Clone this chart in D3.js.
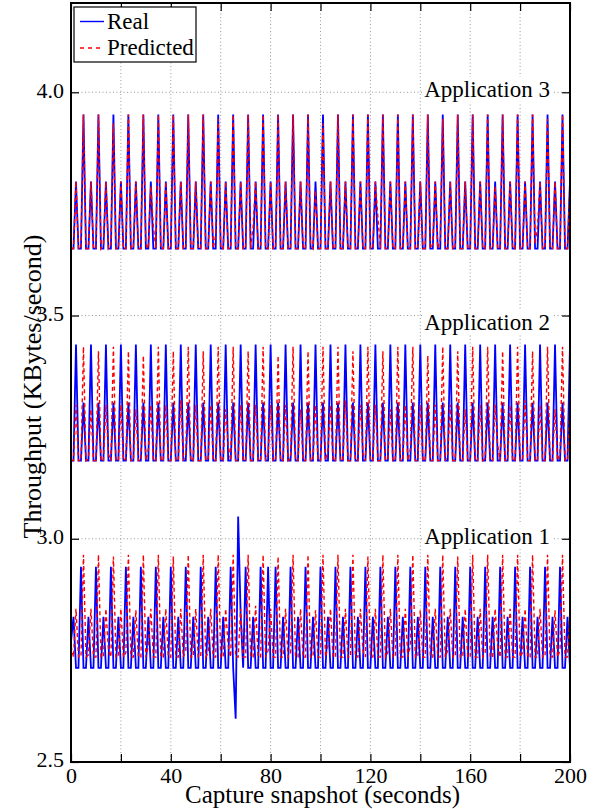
<!DOCTYPE html>
<html>
<head>
<meta charset="utf-8">
<script src="https://cdn.jsdelivr.net/npm/d3@7"></script>
<style>
  html, body { margin: 0; padding: 0; background: #fff; }
  svg { display: block; }
  text { font-family: "Liberation Serif", "Times New Roman", serif; fill: #000; }
</style>
</head>
<body>
<svg id="chart" width="596" height="809"></svg>
<script>
// ---------------- DATA (one sample per second, 0..200 s) ----------------
const app3Real = [
3.65,3.65,3.80,3.65,3.65,3.95,
3.65,3.65,3.80,3.65,3.65,3.95,
3.65,3.65,3.80,3.65,3.65,3.95,
3.65,3.65,3.80,3.65,3.65,3.95,
3.65,3.65,3.80,3.65,3.65,3.95,
3.65,3.65,3.80,3.65,3.65,3.95,
3.65,3.65,3.80,3.65,3.65,3.95,
3.65,3.65,3.80,3.65,3.65,3.95,
3.65,3.65,3.80,3.65,3.65,3.95,
3.65,3.65,3.80,3.65,3.65,3.95,
3.65,3.65,3.80,3.65,3.65,3.95,
3.65,3.65,3.80,3.65,3.65,3.95,
3.65,3.65,3.80,3.65,3.65,3.95,
3.65,3.65,3.80,3.65,3.65,3.95,
3.65,3.65,3.80,3.65,3.65,3.95,
3.65,3.65,3.80,3.65,3.65,3.95,
3.65,3.65,3.80,3.65,3.65,3.95,
3.65,3.65,3.80,3.65,3.65,3.95,
3.65,3.65,3.80,3.65,3.65,3.95,
3.65,3.65,3.80,3.65,3.65,3.95,
3.65,3.65,3.80,3.65,3.65,3.95,
3.65,3.65,3.80,3.65,3.65,3.95,
3.65,3.65,3.80,3.65,3.65,3.95,
3.65,3.65,3.80,3.65,3.65,3.95,
3.65,3.65,3.80,3.65,3.65,3.95,
3.65,3.65,3.80,3.65,3.65,3.95,
3.65,3.65,3.80,3.65,3.65,3.95,
3.65,3.65,3.80,3.65,3.65,3.95,
3.65,3.65,3.80,3.65,3.65,3.95,
3.65,3.65,3.80,3.65,3.65,3.95,
3.65,3.65,3.80,3.65,3.65,3.95,
3.65,3.65,3.80,3.65,3.65,3.95,
3.65,3.65,3.80,3.65,3.65,3.95,
3.65,3.65,3.80];

const app3Pred = [
3.65,3.65,3.80,3.65,3.65,3.95,
3.65,3.65,3.80,3.65,3.65,3.95,
3.65,3.66,3.80,3.65,3.66,3.93,
3.65,3.65,3.80,3.65,3.65,3.95,
3.65,3.65,3.80,3.65,3.65,3.95,
3.66,3.65,3.79,3.70,3.65,3.95,
3.65,3.65,3.80,3.65,3.65,3.95,
3.65,3.65,3.80,3.65,3.65,3.95,
3.65,3.65,3.80,3.65,3.65,3.95,
3.65,3.65,3.80,3.65,3.68,3.94,
3.65,3.65,3.80,3.65,3.65,3.95,
3.65,3.65,3.80,3.65,3.65,3.95,
3.65,3.70,3.80,3.65,3.65,3.95,
3.65,3.65,3.80,3.65,3.65,3.95,
3.65,3.65,3.80,3.65,3.65,3.95,
3.65,3.65,3.80,3.65,3.65,3.95,
3.66,3.65,3.78,3.65,3.65,3.93,
3.65,3.65,3.80,3.65,3.65,3.95,
3.65,3.65,3.80,3.65,3.65,3.95,
3.65,3.65,3.80,3.65,3.65,3.95,
3.65,3.65,3.80,3.72,3.65,3.95,
3.65,3.65,3.80,3.65,3.65,3.95,
3.65,3.65,3.80,3.65,3.65,3.95,
3.65,3.65,3.80,3.65,3.65,3.95,
3.65,3.66,3.80,3.65,3.67,3.94,
3.65,3.65,3.80,3.65,3.65,3.95,
3.65,3.65,3.80,3.65,3.65,3.95,
3.65,3.65,3.80,3.65,3.65,3.95,
3.65,3.65,3.79,3.65,3.65,3.95,
3.65,3.65,3.80,3.65,3.65,3.95,
3.65,3.65,3.80,3.65,3.65,3.95,
3.66,3.70,3.80,3.65,3.65,3.94,
3.65,3.65,3.80,3.65,3.65,3.95,
3.65,3.65,3.80];

const app2Real = [
3.175,3.175,3.435,3.175,3.175,3.305,
3.175,3.175,3.435,3.175,3.175,3.305,
3.175,3.175,3.435,3.175,3.175,3.305,
3.175,3.175,3.435,3.175,3.175,3.305,
3.175,3.175,3.435,3.175,3.175,3.305,
3.175,3.175,3.435,3.175,3.175,3.305,
3.175,3.175,3.435,3.175,3.175,3.305,
3.175,3.175,3.435,3.175,3.175,3.305,
3.175,3.175,3.435,3.175,3.175,3.305,
3.175,3.175,3.435,3.175,3.175,3.305,
3.175,3.175,3.435,3.175,3.175,3.305,
3.175,3.175,3.435,3.175,3.175,3.305,
3.175,3.175,3.435,3.175,3.175,3.305,
3.175,3.175,3.435,3.175,3.175,3.305,
3.175,3.175,3.435,3.175,3.175,3.305,
3.175,3.175,3.435,3.175,3.175,3.305,
3.175,3.175,3.435,3.175,3.175,3.305,
3.175,3.175,3.435,3.175,3.175,3.305,
3.175,3.175,3.435,3.175,3.175,3.305,
3.175,3.175,3.435,3.175,3.175,3.305,
3.175,3.175,3.435,3.175,3.175,3.305,
3.175,3.175,3.435,3.175,3.175,3.305,
3.175,3.175,3.435,3.175,3.175,3.305,
3.175,3.175,3.435,3.175,3.175,3.305,
3.175,3.175,3.435,3.175,3.175,3.305,
3.175,3.175,3.435,3.175,3.175,3.305,
3.175,3.175,3.435,3.175,3.175,3.305,
3.175,3.175,3.435,3.175,3.175,3.305,
3.175,3.175,3.435,3.175,3.175,3.305,
3.175,3.175,3.435,3.175,3.175,3.305,
3.175,3.175,3.435,3.175,3.175,3.305,
3.175,3.175,3.435,3.175,3.175,3.305,
3.175,3.175,3.435,3.175,3.175,3.305,
3.175,3.175,3.435];

const app2Pred = [
3.175,3.175,3.300,3.175,3.175,3.430,
3.175,3.180,3.290,3.175,3.175,3.420,
3.175,3.175,3.300,3.190,3.175,3.430,
3.175,3.175,3.300,3.175,3.180,3.420,
3.175,3.175,3.290,3.175,3.175,3.410,
3.175,3.200,3.300,3.175,3.175,3.430,
3.175,3.175,3.300,3.175,3.175,3.420,
3.175,3.175,3.310,3.175,3.190,3.430,
3.175,3.175,3.300,3.175,3.175,3.420,
3.175,3.180,3.300,3.175,3.175,3.430,
3.175,3.175,3.290,3.210,3.175,3.430,
3.175,3.175,3.300,3.175,3.175,3.420,
3.175,3.175,3.300,3.175,3.175,3.430,
3.175,3.190,3.300,3.175,3.175,3.410,
3.175,3.175,3.300,3.175,3.180,3.430,
3.175,3.175,3.290,3.175,3.175,3.420,
3.175,3.175,3.300,3.175,3.175,3.430,
3.175,3.200,3.300,3.175,3.175,3.430,
3.175,3.175,3.310,3.175,3.175,3.420,
3.175,3.175,3.300,3.190,3.175,3.430,
3.175,3.175,3.300,3.175,3.175,3.420,
3.175,3.180,3.290,3.175,3.175,3.430,
3.175,3.175,3.300,3.175,3.200,3.430,
3.175,3.175,3.300,3.175,3.175,3.410,
3.175,3.175,3.300,3.175,3.175,3.430,
3.175,3.190,3.300,3.175,3.175,3.420,
3.175,3.175,3.290,3.175,3.175,3.430,
3.175,3.175,3.300,3.175,3.180,3.430,
3.175,3.175,3.300,3.210,3.175,3.420,
3.175,3.175,3.300,3.175,3.175,3.430,
3.175,3.180,3.310,3.175,3.175,3.420,
3.175,3.175,3.300,3.175,3.175,3.430,
3.175,3.175,3.290,3.175,3.190,3.430,
3.175,3.175,3.300];

const app1Real = [
2.770,2.825,2.711,2.711,2.937,2.711,
2.711,2.825,2.711,2.711,2.937,2.711,
2.711,2.825,2.711,2.711,2.937,2.711,
2.711,2.825,2.711,2.711,2.937,2.711,
2.711,2.825,2.711,2.711,2.937,2.711,
2.711,2.825,2.711,2.711,2.937,2.711,
2.711,2.825,2.711,2.711,2.937,2.711,
2.711,2.825,2.711,2.711,2.937,2.711,
2.711,2.825,2.711,2.711,2.937,2.711,
2.711,2.825,2.711,2.711,2.937,2.711,
2.711,2.825,2.711,2.711,2.937,2.711,
2.597,3.050,2.830,2.711,2.937,2.711,
2.711,2.825,2.711,2.711,2.937,2.711,
2.711,2.937,2.711,2.711,2.937,2.711,
2.711,2.825,2.711,2.711,2.937,2.711,
2.711,2.825,2.711,2.711,2.937,2.711,
2.711,2.825,2.711,2.711,2.937,2.711,
2.711,2.825,2.711,2.711,2.937,2.711,
2.711,2.825,2.711,2.711,2.937,2.711,
2.711,2.825,2.711,2.711,2.937,2.711,
2.711,2.825,2.711,2.711,2.937,2.711,
2.711,2.825,2.711,2.711,2.937,2.711,
2.711,2.825,2.711,2.711,2.937,2.711,
2.711,2.825,2.711,2.711,2.937,2.711,
2.711,2.825,2.711,2.711,2.937,2.711,
2.711,2.825,2.711,2.711,2.937,2.711,
2.711,2.825,2.711,2.711,2.937,2.711,
2.711,2.825,2.711,2.711,2.937,2.711,
2.711,2.825,2.711,2.711,2.937,2.711,
2.711,2.825,2.711,2.711,2.937,2.711,
2.711,2.825,2.711,2.711,2.937,2.711,
2.711,2.825,2.711,2.711,2.937,2.711,
2.711,2.825,2.711,2.711,2.937,2.711,
2.711,2.825,2.711];

const app1Pred = [
2.760,2.735,2.843,2.735,2.735,2.964,
2.735,2.740,2.843,2.735,2.735,2.964,
2.735,2.735,2.843,2.750,2.735,2.960,
2.735,2.735,2.843,2.735,2.745,2.964,
2.735,2.735,2.840,2.735,2.735,2.964,
2.735,2.760,2.843,2.735,2.735,2.964,
2.735,2.735,2.843,2.735,2.735,2.960,
2.735,2.735,2.843,2.735,2.750,2.964,
2.735,2.735,2.843,2.735,2.735,2.964,
2.735,2.745,2.843,2.735,2.735,2.964,
2.735,2.735,2.843,2.760,2.735,2.964,
2.735,2.735,2.843,2.735,2.735,2.964,
2.735,2.735,2.850,2.735,2.735,2.964,
2.735,2.750,2.843,2.735,2.735,2.960,
2.735,2.735,2.843,2.735,2.745,2.964,
2.735,2.735,2.843,2.735,2.735,2.964,
2.735,2.735,2.840,2.735,2.735,2.964,
2.735,2.760,2.843,2.735,2.735,2.964,
2.735,2.735,2.843,2.735,2.735,2.964,
2.735,2.735,2.843,2.750,2.735,2.960,
2.735,2.735,2.843,2.735,2.735,2.964,
2.735,2.745,2.843,2.735,2.735,2.964,
2.735,2.735,2.843,2.735,2.760,2.964,
2.735,2.735,2.840,2.735,2.735,2.964,
2.735,2.735,2.843,2.735,2.735,2.964,
2.735,2.750,2.843,2.735,2.735,2.960,
2.735,2.735,2.843,2.735,2.735,2.964,
2.735,2.735,2.843,2.735,2.745,2.964,
2.735,2.735,2.843,2.760,2.735,2.964,
2.735,2.735,2.843,2.735,2.735,2.964,
2.735,2.745,2.843,2.735,2.735,2.964,
2.735,2.735,2.843,2.735,2.735,2.964,
2.735,2.735,2.840,2.735,2.750,2.964,
2.735,2.735,2.843];

const xTickValues = [0, 20, 40, 60, 80, 100, 120, 140, 160, 180, 200];
const xTickLabels = ["0", "", "40", "", "80", "", "120", "", "160", "", "200"];
const yTickValues = [2.5, 3.0, 3.5, 4.0];
const yTickLabels = ["2.5", "3.0", "3.5", "4.0"];
const appNames = ["Application 1", "Application 2", "Application 3"];
const appLabelValues = [2.988, 3.468, 3.99];
const seriesNames = ["Real", "Predicted"];
const xTitle = "Capture snapshot (seconds)";
const yTitle = "Throughput (KBytes/second)";

// ---------------- LAYOUT ----------------
const svg = d3.select("#chart");
const L = 71, R = 570, T = 3, B = 762;
const x = d3.scaleLinear().domain([0, 200]).range([L, R]);
const y = d3.scaleLinear().domain([2.5, 4.2]).range([B, T]);
const blue = "#0000ff", red = "#ff0000";

// grid
const grid = svg.append("g").attr("stroke", "#9a9a9a").attr("stroke-width", 1)
  .attr("stroke-dasharray", "1,2.5");
grid.selectAll("line.v").data(xTickValues.slice(1, -1)).join("line")
  .attr("x1", d => x(d)).attr("x2", d => x(d)).attr("y1", T).attr("y2", B);
grid.selectAll("line.h").data(yTickValues.slice(1)).join("line")
  .attr("x1", L).attr("x2", R).attr("y1", d => y(d)).attr("y2", d => y(d));

// data lines
const line = d3.line().x((d, i) => x(i)).y(d => y(d));
const plot = svg.append("g");
const series = [
  { data: app1Real, color: blue, dash: null },
  { data: app2Real, color: blue, dash: null },
  { data: app3Real, color: blue, dash: null },
  { data: app1Pred, color: red, dash: "4,3" },
  { data: app2Pred, color: red, dash: "4,3" },
  { data: app3Pred, color: red, dash: "4,3" }
];
plot.selectAll("path").data(series).join("path")
  .attr("d", d => line(d.data))
  .attr("fill", "none")
  .attr("stroke", d => d.color)
  .attr("stroke-width", d => d.dash ? 1.4 : 1.8)
  .attr("stroke-dasharray", d => d.dash)
  .attr("stroke-linejoin", "miter");

// application labels with white background
const labG = svg.append("g");
appNames.forEach((name, i) => {
  const g = labG.append("g");
  const t = g.append("text")
    .attr("x", 550).attr("y", y(appLabelValues[i]))
    .attr("text-anchor", "end")
    .attr("font-size", 23)
    .text(name);
  const bb = t.node().getBBox();
  g.insert("rect", "text")
    .attr("x", bb.x - 2).attr("y", bb.y).attr("width", bb.width + 4).attr("height", bb.height)
    .attr("fill", "#fff");
});

// axes
const fontFam = '"Liberation Serif", "Times New Roman", serif';
function styleAxis(g) {
  g.select(".domain").remove();
  g.selectAll(".tick line").attr("stroke", "#000").attr("stroke-width", 1.2);
  g.selectAll(".tick text").attr("font-family", fontFam).attr("font-size", 22).attr("fill", "#000");
}
svg.append("g").attr("transform", `translate(0,${B})`)
  .call(d3.axisBottom(x).tickValues(xTickValues).tickSize(-8).tickPadding(5)
    .tickFormat((d, i) => xTickLabels[i]))
  .call(styleAxis);
svg.append("g").attr("transform", `translate(0,${T})`)
  .call(d3.axisTop(x).tickValues(xTickValues).tickSize(-8).tickFormat(""))
  .call(styleAxis);
const yAx = svg.append("g").attr("transform", `translate(${L},0)`)
  .call(d3.axisLeft(y).tickValues(yTickValues).tickSize(-8).tickPadding(7)
    .tickFormat((d, i) => yTickLabels[i]))
  .call(styleAxis);
yAx.selectAll(".tick text").attr("dy", "0.22em");
svg.append("g").attr("transform", `translate(${R},0)`)
  .call(d3.axisRight(y).tickValues(yTickValues).tickSize(-8).tickFormat(""))
  .call(styleAxis);

// frame
svg.append("rect").attr("x", L).attr("y", T).attr("width", R - L).attr("height", B - T)
  .attr("fill", "none").attr("stroke", "#000").attr("stroke-width", 2);

// axis titles
svg.append("text").attr("x", (L + R) / 2 + 2).attr("y", 803)
  .attr("text-anchor", "middle").attr("font-size", 25).text(xTitle);
svg.append("text").attr("transform", `translate(41,${(T + B) / 2 + 4}) rotate(-90)`)
  .attr("text-anchor", "middle").attr("font-size", 26).text(yTitle);

// legend
const lg = svg.append("g");
lg.append("rect").attr("x", 74).attr("y", 7).attr("width", 122).attr("height", 55)
  .attr("fill", "#fff").attr("stroke", "#000").attr("stroke-width", 1.2);
const legendItems = [
  { name: seriesNames[0], color: blue, dash: null, yy: 21.5 },
  { name: seriesNames[1], color: red, dash: "4,4", yy: 48 }
];
legendItems.forEach(it => {
  lg.append("line").attr("x1", 80).attr("x2", 104).attr("y1", it.yy).attr("y2", it.yy)
    .attr("stroke", it.color).attr("stroke-width", 1.4).attr("stroke-dasharray", it.dash);
  lg.append("text").attr("x", 107).attr("y", it.yy + 7).attr("font-size", 23).text(it.name);
});
</script>
</body>
</html>
